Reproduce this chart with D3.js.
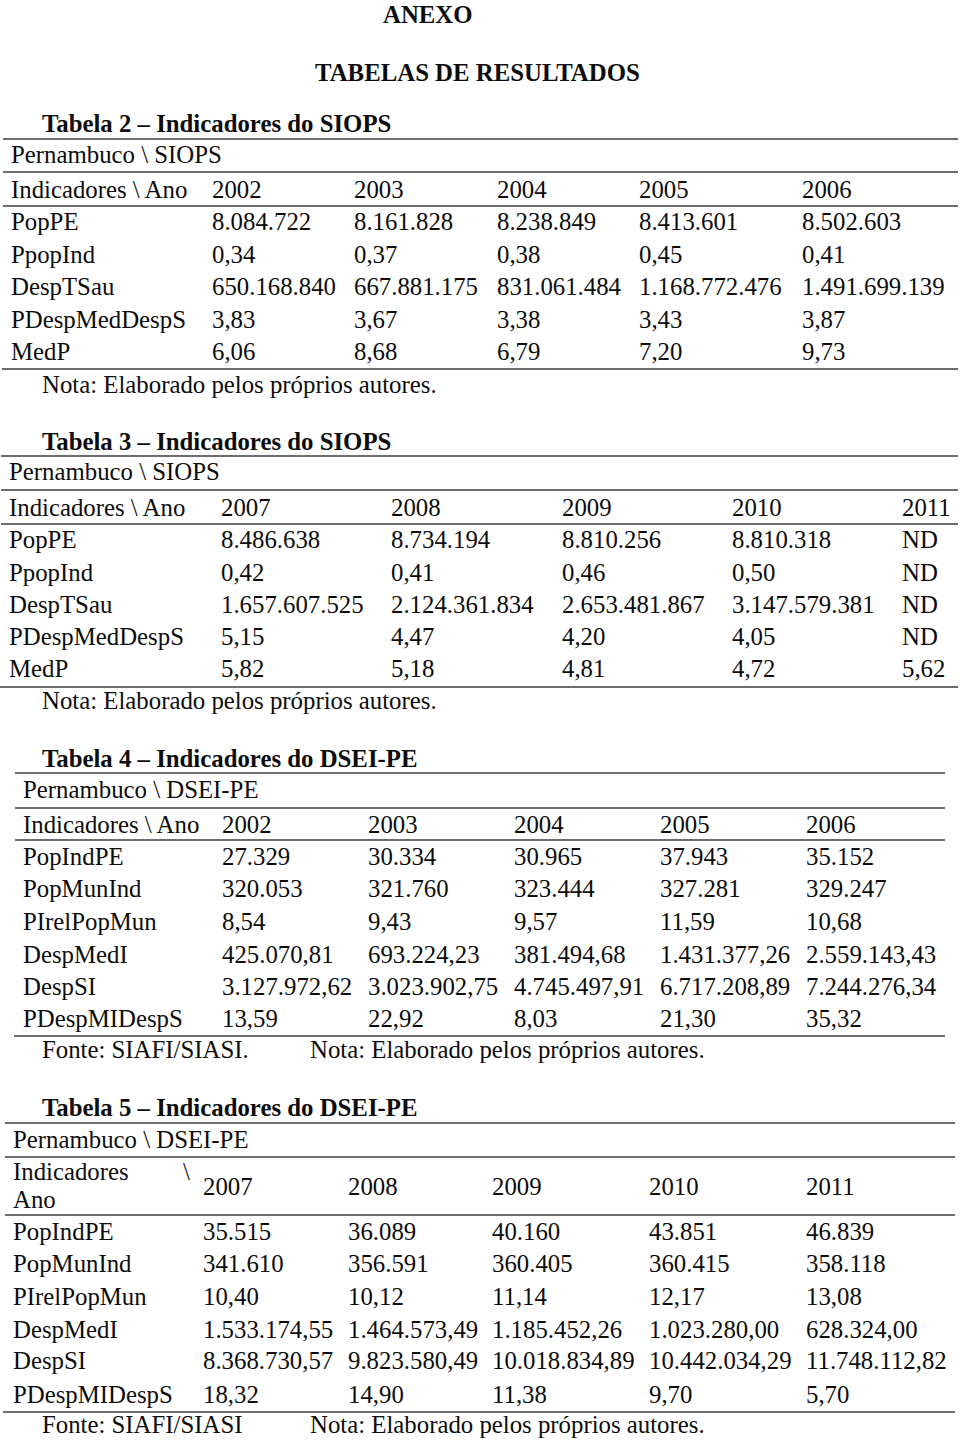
<!DOCTYPE html>
<html>
<head>
<meta charset="utf-8">
<script src="https://cdn.jsdelivr.net/npm/d3@7"></script>
<style>
  html, body { margin: 0; padding: 0; background: #fff; }
  svg { display: block; }
  text { font-family: "Liberation Serif", "Times New Roman", serif; font-size: 24.8px; fill: #0d0d0d; }
  .bold { font-weight: bold; }
</style>
</head>
<body>
<svg id="chart" width="960" height="1440"></svg>
<script>
// ---------- DATA ----------
const pageTitle = "ANEXO";
const pageSubtitle = "TABELAS DE RESULTADOS";

const t2Title = "Tabela 2 – Indicadores do SIOPS";
const t2Sub = "Pernambuco \\ SIOPS";
const t2Head = "Indicadores \\ Ano";
const t2Years = ["2002", "2003", "2004", "2005", "2006"];
const t2Rows = ["PopPE", "PpopInd", "DespTSau", "PDespMedDespS", "MedP"];
const t2Values = [
  ["8.084.722", "8.161.828", "8.238.849", "8.413.601", "8.502.603"],
  ["0,34", "0,37", "0,38", "0,45", "0,41"],
  ["650.168.840", "667.881.175", "831.061.484", "1.168.772.476", "1.491.699.139"],
  ["3,83", "3,67", "3,38", "3,43", "3,87"],
  ["6,06", "8,68", "6,79", "7,20", "9,73"]
];
const t2Notes = ["Nota: Elaborado pelos próprios autores."];

const t3Title = "Tabela 3 – Indicadores do SIOPS";
const t3Sub = "Pernambuco \\ SIOPS";
const t3Head = "Indicadores \\ Ano";
const t3Years = ["2007", "2008", "2009", "2010", "2011"];
const t3Rows = ["PopPE", "PpopInd", "DespTSau", "PDespMedDespS", "MedP"];
const t3Values = [
  ["8.486.638", "8.734.194", "8.810.256", "8.810.318", "ND"],
  ["0,42", "0,41", "0,46", "0,50", "ND"],
  ["1.657.607.525", "2.124.361.834", "2.653.481.867", "3.147.579.381", "ND"],
  ["5,15", "4,47", "4,20", "4,05", "ND"],
  ["5,82", "5,18", "4,81", "4,72", "5,62"]
];
const t3Notes = ["Nota: Elaborado pelos próprios autores."];

const t4Title = "Tabela 4 – Indicadores do DSEI-PE";
const t4Sub = "Pernambuco \\ DSEI-PE";
const t4Head = "Indicadores \\ Ano";
const t4Years = ["2002", "2003", "2004", "2005", "2006"];
const t4Rows = ["PopIndPE", "PopMunInd", "PIrelPopMun", "DespMedI", "DespSI", "PDespMIDespS"];
const t4Values = [
  ["27.329", "30.334", "30.965", "37.943", "35.152"],
  ["320.053", "321.760", "323.444", "327.281", "329.247"],
  ["8,54", "9,43", "9,57", "11,59", "10,68"],
  ["425.070,81", "693.224,23", "381.494,68", "1.431.377,26", "2.559.143,43"],
  ["3.127.972,62", "3.023.902,75", "4.745.497,91", "6.717.208,89", "7.244.276,34"],
  ["13,59", "22,92", "8,03", "21,30", "35,32"]
];
const t4Notes = ["Fonte: SIAFI/SIASI.", "Nota: Elaborado pelos próprios autores."];

const t5Title = "Tabela 5 – Indicadores do DSEI-PE";
const t5Sub = "Pernambuco \\ DSEI-PE";
const t5Head = ["Indicadores", "Ano"];
const t5HeadSlash = "\\";
const t5Years = ["2007", "2008", "2009", "2010", "2011"];
const t5Rows = ["PopIndPE", "PopMunInd", "PIrelPopMun", "DespMedI", "DespSI", "PDespMIDespS"];
const t5Values = [
  ["35.515", "36.089", "40.160", "43.851", "46.839"],
  ["341.610", "356.591", "360.405", "360.415", "358.118"],
  ["10,40", "10,12", "11,14", "12,17", "13,08"],
  ["1.533.174,55", "1.464.573,49", "1.185.452,26", "1.023.280,00", "628.324,00"],
  ["8.368.730,57", "9.823.580,49", "10.018.834,89", "10.442.034,29", "11.748.112,82"],
  ["18,32", "14,90", "11,38", "9,70", "5,70"]
];
const t5Notes = ["Fonte: SIAFI/SIASI", "Nota: Elaborado pelos próprios autores."];

// ---------- LAYOUT ----------
const svg = d3.select("#chart");

svg.append("text").attr("class", "bold").attr("x", 383).attr("y", 23).text(pageTitle);
svg.append("text").attr("class", "bold").attr("x", 315).attr("y", 81).text(pageSubtitle);

function drawTable(cfg) {
  const g = svg.append("g");
  const cols = ["label"].concat(cfg.years);
  const x = d3.scaleOrdinal().domain(cols).range(cfg.colX);
  const y = d3.scaleOrdinal().domain(cfg.rows).range(cfg.rowY);

  // rules
  g.selectAll("line.rule").data(cfg.lines).join("line")
    .attr("class", "rule")
    .attr("x1", d => d.x1).attr("x2", d => d.x2)
    .attr("y1", d => d.y).attr("y2", d => d.y)
    .attr("stroke", "#3c3c3c").attr("stroke-width", 1.7);

  // title
  g.append("text").attr("class", "bold").attr("x", cfg.titleX).attr("y", cfg.titleY).text(cfg.title);
  // subtitle
  g.append("text").attr("x", cfg.colX[0]).attr("y", cfg.subY).text(cfg.sub);

  // header
  if (Array.isArray(cfg.head)) {
    g.selectAll("text.headlbl").data(cfg.head).join("text")
      .attr("class", "headlbl")
      .attr("x", cfg.colX[0])
      .attr("y", (d, i) => cfg.headLblY[i])
      .text(d => d);
    g.append("text").attr("x", cfg.slashX).attr("y", cfg.headLblY[0]).text(cfg.slash);
  } else {
    g.append("text").attr("x", x("label")).attr("y", cfg.headY).text(cfg.head);
  }
  g.selectAll("text.year").data(cfg.years).join("text")
    .attr("class", "year")
    .attr("x", d => x(d)).attr("y", cfg.headY).text(d => d);

  // rows
  const rowG = g.selectAll("g.row").data(cfg.rows).join("g").attr("class", "row");
  rowG.append("text").attr("x", x("label")).attr("y", d => y(d)).text(d => d);
  rowG.each(function(r, ri) {
    d3.select(this).selectAll("text.val")
      .data(cfg.values[ri].map((v, ci) => ({ v, col: cfg.years[ci] })))
      .join("text").attr("class", "val")
      .attr("x", d => x(d.col)).attr("y", y(r)).text(d => d.v);
  });

  // notes
  g.selectAll("text.note").data(cfg.notes).join("text")
    .attr("class", "note")
    .attr("x", (d, i) => cfg.noteX[i]).attr("y", cfg.noteY).text(d => d);
}

drawTable({
  title: t2Title, titleX: 42, titleY: 132,
  sub: t2Sub, subY: 163,
  head: t2Head, headY: 198,
  years: t2Years, rows: t2Rows, values: t2Values,
  colX: [11, 212, 354, 497, 639, 802],
  rowY: [230, 263, 295, 328, 360],
  lines: [{x1: 3, x2: 958, y: 139}, {x1: 3, x2: 958, y: 172}, {x1: 3, x2: 958, y: 206}, {x1: 2, x2: 958, y: 369}],
  notes: t2Notes, noteX: [42], noteY: 393
});

drawTable({
  title: t3Title, titleX: 42, titleY: 450,
  sub: t3Sub, subY: 480,
  head: t3Head, headY: 516,
  years: t3Years, rows: t3Rows, values: t3Values,
  colX: [9, 221, 391, 562, 732, 902],
  rowY: [548, 581, 613, 645, 677],
  lines: [{x1: 1, x2: 958, y: 456}, {x1: 1, x2: 958, y: 490}, {x1: 1, x2: 958, y: 524}, {x1: 0, x2: 958, y: 687}],
  notes: t3Notes, noteX: [42], noteY: 709
});

drawTable({
  title: t4Title, titleX: 42, titleY: 767,
  sub: t4Sub, subY: 798,
  head: t4Head, headY: 833,
  years: t4Years, rows: t4Rows, values: t4Values,
  colX: [23, 222, 368, 514, 660, 806],
  rowY: [865, 897, 930, 963, 995, 1027],
  lines: [{x1: 15, x2: 945, y: 773}, {x1: 15, x2: 945, y: 808}, {x1: 15, x2: 945, y: 840}, {x1: 14, x2: 945, y: 1036}],
  notes: t4Notes, noteX: [42, 310], noteY: 1058
});

drawTable({
  title: t5Title, titleX: 42, titleY: 1116,
  sub: t5Sub, subY: 1148,
  head: t5Head, headLblY: [1180, 1208], slash: t5HeadSlash, slashX: 183, headY: 1195,
  years: t5Years, rows: t5Rows, values: t5Values,
  colX: [13, 203, 348, 492, 649, 806],
  rowY: [1240, 1272, 1305, 1338, 1369, 1403],
  lines: [{x1: 5, x2: 955, y: 1123}, {x1: 5, x2: 955, y: 1157}, {x1: 5, x2: 955, y: 1215}, {x1: 3, x2: 955, y: 1412}],
  notes: t5Notes, noteX: [42, 310], noteY: 1433
});
</script>
</body>
</html>
